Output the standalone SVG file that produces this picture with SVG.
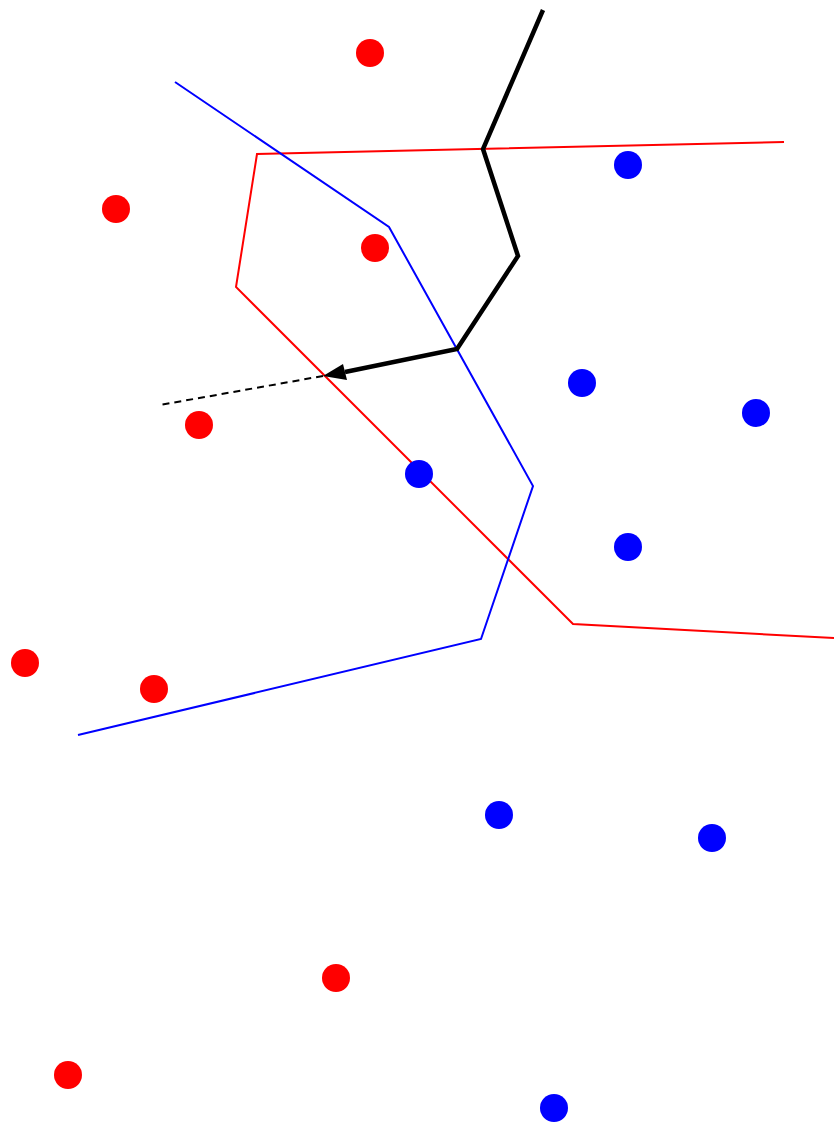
<svg xmlns="http://www.w3.org/2000/svg" width="834" height="1124" viewBox="0 0 834 1124">
<style>
.r{fill:#ff0000}
.b{fill:#0000ff}
.thin{fill:none;stroke-width:2;stroke-linejoin:miter}
</style>
<rect width="834" height="1124" fill="#ffffff"/>
<g id="connectors">
<polyline id="red-boundary" class="thin" stroke="#ff0000" points="784,142 257,154 236,287 573,624 834,638"/>
<polyline id="blue-boundary" class="thin" stroke="#0000ff" points="175,82 389,227 533,486 481,639 78,735"/>
<polyline id="path" fill="none" stroke="#000000" stroke-width="4.5" stroke-linejoin="miter" points="543,10 483,149 518,256 457,349 345,372"/>
<polygon id="arrowhead" fill="#000000" points="323,376 343,364 347,380"/>
<line id="dashed" x1="323" y1="376" x2="160" y2="405" stroke="#000000" stroke-width="2" stroke-dasharray="7,5"/>
</g>
<g id="red-points">
<circle id="r1" class="r" cx="370" cy="53" r="14"/>
<circle id="r2" class="r" cx="116" cy="209" r="14"/>
<circle id="r3" class="r" cx="375" cy="248" r="14"/>
<circle id="r4" class="r" cx="199" cy="425" r="14"/>
<circle id="r5" class="r" cx="25" cy="663" r="14"/>
<circle id="r6" class="r" cx="154" cy="689" r="14"/>
<circle id="r7" class="r" cx="336" cy="978" r="14"/>
<circle id="r8" class="r" cx="68" cy="1075" r="14"/>
</g>
<g id="blue-points">
<circle id="b1" class="b" cx="628" cy="165" r="14"/>
<circle id="b2" class="b" cx="582" cy="383" r="14"/>
<circle id="b3" class="b" cx="756" cy="413" r="14"/>
<circle id="b4" class="b" cx="419" cy="474" r="14"/>
<circle id="b5" class="b" cx="628" cy="547" r="14"/>
<circle id="b6" class="b" cx="499" cy="815" r="14"/>
<circle id="b7" class="b" cx="712" cy="838" r="14"/>
<circle id="b8" class="b" cx="554" cy="1108" r="14"/>
</g>
</svg>
